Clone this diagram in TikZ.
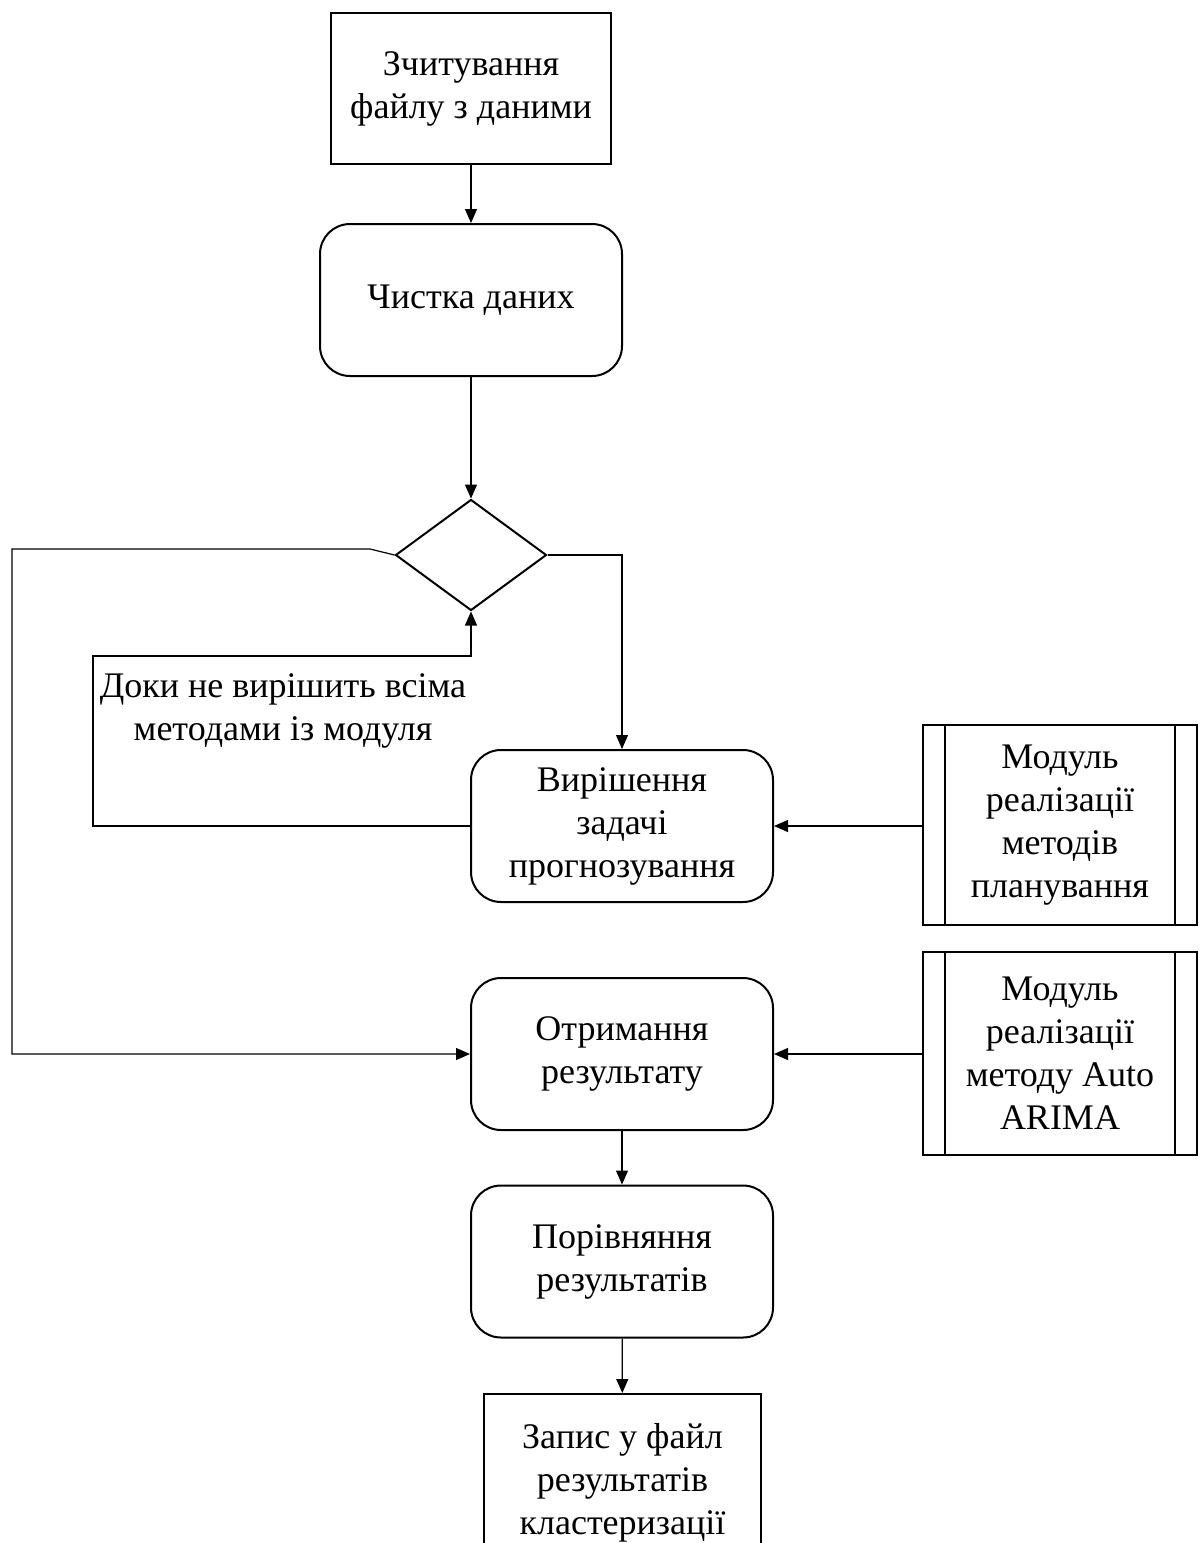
\documentclass[tikz,border=0pt]{standalone}
\usepackage{fontspec}
\setmainfont{Liberation Serif}
\usetikzlibrary{arrows.meta,shapes.geometric}

\begin{document}
\begin{tikzpicture}[x=0.5pt,y=-0.5pt,
  font=\fontsize{18}{21.5}\selectfont,
  flow/.style={-{Triangle[length=7pt,width=6pt]},line width=0.6pt},
  plainbox/.style={draw,line width=1pt,align=center,inner sep=0pt},
  roundbox/.style={plainbox,rounded corners=15pt,minimum width=151pt,minimum height=76pt},
  decision/.style={draw,diamond,line width=1pt,inner sep=0pt,minimum width=75.5pt,minimum height=55.5pt},
  modbox/.style={plainbox,minimum width=137pt}]
\useasboundingbox (0,0) rectangle (1204,1543);
% main column
\node[plainbox,minimum width=140pt,minimum height=75.5pt] (read) at (471,88.5) {Зчитування\\файлу з даними};
\node[roundbox] (clean) at (471,300) {Чистка даних};
\node[decision] (dec) at (471,555) {};
\node[roundbox] (solve) at (622,826) {Вирішення\\задачі\\прогнозування};
\node[roundbox] (res) at (622,1054) {Отримання\\результату};
\node[roundbox] (cmp) at (622,1261.5) {Порівняння\\результатів};
\node[plainbox,minimum width=138.5pt,minimum height=89pt] (save) at (622.5,1483) {Запис у файл\\результатів\\кластеризації};
% modules
\node[modbox,minimum height=100pt] (modplan) at (1060,825) {Модуль\\реалізації\\методів\\планування};
\node[modbox,minimum height=101.5pt] (modarima) at (1060,1053.5) {Модуль\\реалізації\\методу Auto\\ARIMA};
\foreach \m in {modplan,modarima}{
  \draw[line width=1pt] ([xshift=11.5pt]\m.north west) -- ([xshift=11.5pt]\m.south west);
  \draw[line width=1pt] ([xshift=-11.5pt]\m.north east) -- ([xshift=-11.5pt]\m.south east);
}
\node[align=center] (looptext) at (283,711) {Доки не вирішить всіма\\методами із модуля};
% connectors
\coordinate (kink) at (370,549);
\coordinate (leftcorner) at (12,549);
\draw[flow] (read) -- (clean);
\draw[flow] (clean) -- (dec);
\draw[flow] (dec.east) -| (solve.north);
\draw[flow] (solve.west) -| (93,656) -| (dec.south);
\draw[flow] (dec.west) -- (kink) -- (leftcorner) |- (res.west);
\draw[flow] (modplan.west |- solve.east) -- (solve.east);
\draw[flow] (modarima.west |- res.east) -- (res.east);
\draw[flow] (res) -- (cmp);
\draw[flow] (cmp) -- (save);
\end{tikzpicture}
\end{document}
